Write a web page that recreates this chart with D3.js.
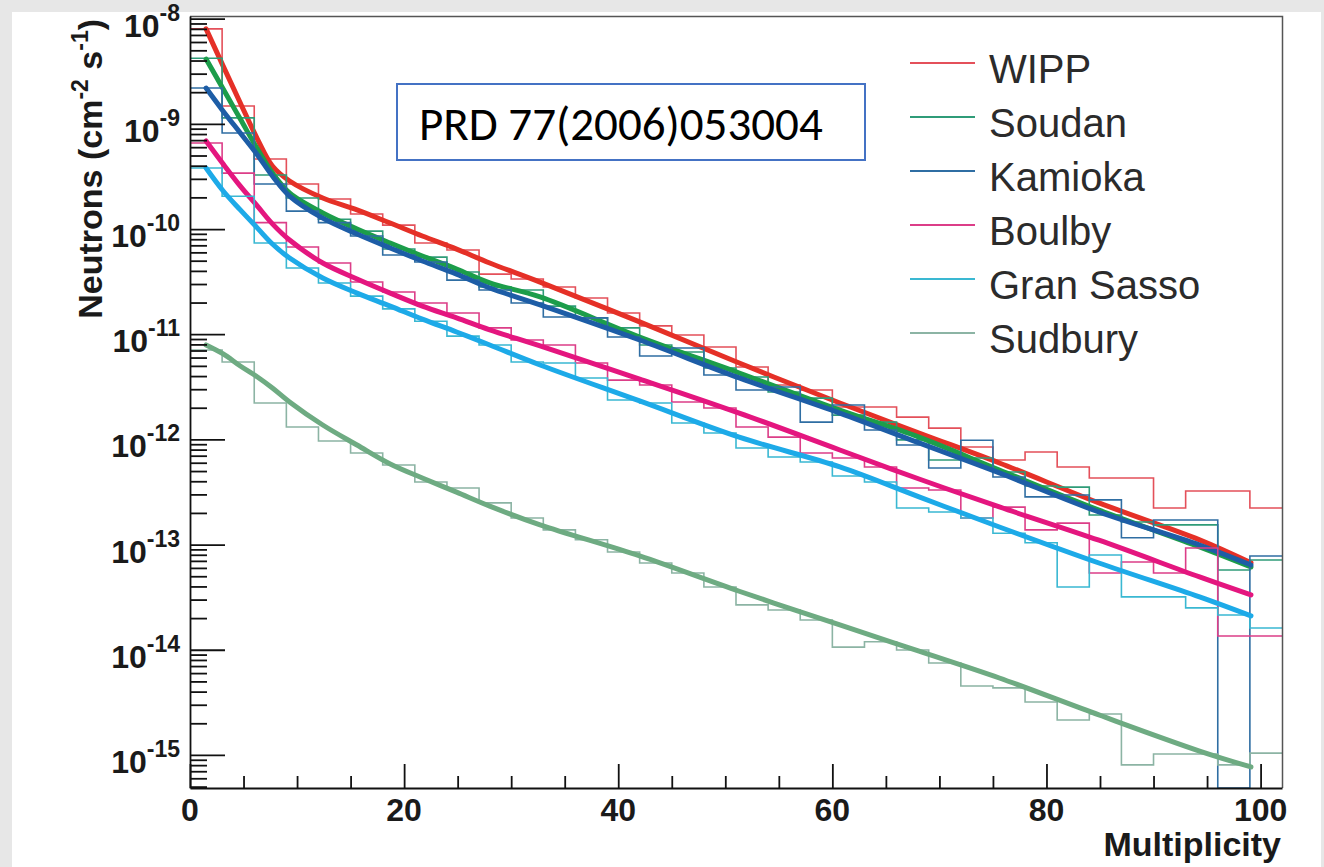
<!DOCTYPE html>
<html>
<head>
<meta charset="utf-8">
<script src="https://cdn.jsdelivr.net/npm/d3@7"></script>
<style>
  html, body { margin: 0; padding: 0; background: #e7e7e7; }
  #chart { position: absolute; left: 0; top: 0; }
</style>
</head>
<body>
<div id="chart"></div>
<script>
const sites = ["WIPP", "Soudan", "Kamioka", "Boulby", "Gran Sasso", "Sudbury"];
const histColors = ["#e4505a", "#2f9c78", "#2f6ea3", "#dc3e88", "#3ab8d2", "#8cb4a4"];
const fitColors = ["#e53027", "#1c9d4a", "#1d5da6", "#e4167f", "#1daae8", "#6eab82"];

// histogram bins (multiplicity, lower edge), width 3
const binLow = [0, 3, 6, 9, 12, 15, 18, 21, 24, 27, 30, 33, 36, 39, 42, 45, 48, 51,
    54, 57, 60, 63, 66, 69, 72, 75, 78, 81, 84, 87, 90, 93, 96, 99];
const binWidth = 3;

const wippCounts = [8.0e-9, 1.48e-9, 4.63e-10, 2.68e-10, 1.93e-10, 1.39e-10, 1.09e-10, 7.36e-11, 6.32e-11,
    3.73e-11, 3.35e-11, 2.81e-11, 2.21e-11, 1.59e-11, 1.2e-11, 9.83e-12, 7.55e-12, 4.88e-12, 3.29e-12,
    2.95e-12, 2.03e-12, 2.03e-12, 1.63e-12, 1.28e-12, 8.47e-13, 6.37e-13, 7.59e-13, 5.47e-13, 4.3e-13,
    4.3e-13, 2.23e-13, 3.23e-13, 3.23e-13, 2.23e-13];
const soudanCounts = [4.2e-9, 1.14e-9, 3.26e-10, 1.97e-10, 1.24e-10, 9.56e-11, 6.46e-11, 5.41e-11, 3.9e-11,
    2.81e-11, 2.63e-11, 1.85e-11, 1.43e-11, 1.15e-11, 7.9e-12, 6.78e-12, 4.77e-12, 3.92e-12, 2.82e-12,
    2.47e-12, 1.70e-12, 1.46e-12, 9.9e-13, 6.37e-13, 6.66e-13, 4.9e-13, 3.6e-13, 3.52e-13, 1.91e-13,
    1.64e-13, 1.54e-13, 1.54e-13, 5.73e-14, 7.14e-14];
const kamiokaCounts = [2.19e-9, 8.18e-10, 2.68e-10, 1.48e-10, 1.15e-10, 8.58e-11, 5.66e-11, 4.86e-11, 3.27e-11,
    2.63e-11, 1.98e-11, 1.46e-11, 1.43e-11, 9.4e-12, 6.2e-12, 7.4e-12, 4.09e-12, 2.95e-12, 3.15e-12,
    1.46e-12, 2.12e-12, 1.23e-12, 8.84e-13, 5.34e-13, 9.83e-13, 4.39e-13, 2.84e-13, 2.96e-13, 2.66e-13,
    1.16e-13, 1.71e-13, 1.71e-13, 0, 7.8e-14];
const boulbyCounts = [6.57e-10, 3.4e-10, 1.15e-10, 6.75e-11, 4.75e-11, 3.14e-11, 2.52e-11, 1.98e-11, 1.59e-11,
    1.15e-11, 8.8e-12, 7.9e-12, 5.32e-12, 3.66e-12, 3.29e-12, 2.27e-12, 1.99e-12, 1.31e-12, 1.05e-12,
    7.43e-13, 6.66e-13, 5.47e-13, 3.45e-13, 3.3e-13, 1.79e-13, 2.27e-13, 1.38e-13, 1.6e-13, 5.37e-14,
    6.84e-14, 5.37e-14, 9.28e-14, 1.35e-14, 1.35e-14];
const granSassoCounts = [3.8e-10, 2.05e-10, 7.36e-11, 4.26e-11, 3.07e-11, 2.3e-11, 1.74e-11, 1.33e-11, 9.6e-12,
    7.9e-12, 5.44e-12, 5.32e-12, 3.84e-12, 2.37e-12, 2.22e-12, 1.43e-12, 1.15e-12, 8.28e-13, 6.8e-13,
    6.1e-13, 4.49e-13, 3.94e-13, 2.23e-13, 2.04e-13, 1.79e-13, 1.28e-13, 1.04e-13, 3.95e-14, 7.96e-14,
    3.18e-14, 3.18e-14, 2.5e-14, 2.14e-14, 1.61e-14];
const sudburyCounts = [7.07e-12, 5.44e-12, 2.22e-12, 1.31e-12, 9.65e-13, 7.43e-13, 5.71e-13, 3.94e-13, 3.45e-13,
    2.49e-13, 1.79e-13, 1.38e-13, 1.11e-13, 8.5e-14, 6.69e-14, 5.37e-14, 3.95e-14, 2.67e-14, 2.39e-14,
    1.92e-14, 1.06e-14, 1.19e-14, 9.95e-15, 7.49e-15, 4.53e-15, 4.34e-15, 3.19e-15, 2.15e-15, 2.45e-15,
    8.04e-16, 1.02e-15, 1.02e-15, 8.04e-16, 1.04e-15];

// fit curves, read at these multiplicities
const fitX = [1.5, 3.1, 4.7, 6.3, 7.7, 9.3, 12.4, 15.6, 18.7, 21.7, 24.9, 28.0, 32.7, 42.0, 51.3, 60.7,
    68.1, 75.6, 84.9, 94.3, 99.1];
const wippFit = [8.0e-9, 3.54e-9, 1.58e-9, 7.17e-10, 3.97e-10, 2.86e-10, 1.97e-10, 1.52e-10, 1.14e-10, 8.58e-11,
    6.45e-11, 4.75e-11, 3.13e-11, 1.31e-11, 5.32e-12, 2.22e-12, 1.15e-12, 5.97e-13, 2.49e-13, 1.11e-13, 6.7e-14];
const soudanFit = [4.13e-9, 2.14e-9, 1.11e-9, 5.76e-10, 3.41e-10, 2.20e-10, 1.42e-10, 1.0e-10, 7.36e-11, 5.54e-11,
    4.17e-11, 3.07e-11, 2.26e-11, 9.4e-12, 4.28e-12, 1.90e-12, 1.05e-12, 5.12e-13, 2.13e-13, 9.5e-14, 6.12e-14];
const kamiokaFit = [2.19e-9, 1.32e-9, 8.18e-10, 5.06e-10, 3.19e-10, 2.06e-10, 1.27e-10, 8.96e-11, 6.6e-11, 4.97e-11,
    3.73e-11, 2.75e-11, 1.90e-11, 8.81e-12, 3.84e-12, 1.78e-12, 9.25e-13, 4.8e-13, 2.04e-13, 9.9e-14, 6.4e-14];
const boulbyFit = [6.87e-10, 4.15e-10, 2.56e-10, 1.65e-10, 1.12e-10, 7.86e-11, 4.75e-11, 3.35e-11, 2.46e-11, 1.85e-11,
    1.43e-11, 1.10e-11, 7.73e-12, 3.75e-12, 1.78e-12, 7.93e-13, 4.2e-13, 2.28e-13, 1.1e-13, 4.92e-14, 3.32e-14];
const granSassoFit = [3.8e-10, 2.3e-10, 1.52e-10, 1.02e-10, 7.2e-11, 5.3e-11, 3.42e-11, 2.46e-11, 1.85e-11, 1.39e-11,
    1.05e-11, 7.9e-12, 5.1e-12, 2.32e-12, 1.05e-12, 5.47e-13, 2.84e-13, 1.47e-13, 6.68e-14, 3.18e-14, 2.1e-14];
const sudburyFit = [7.9e-12, 6.49e-12, 4.99e-12, 3.92e-12, 3.08e-12, 2.27e-12, 1.37e-12, 8.84e-13, 5.84e-13, 4.3e-13,
    3.15e-13, 2.32e-13, 1.54e-13, 7.8e-14, 3.6e-14, 1.72e-14, 9.7e-15, 5.39e-15, 2.4e-15, 1.09e-15, 7.69e-16];

const xTicks = [0, 20, 40, 60, 80, 100];
const yTicks = [1e-8, 1e-9, 1e-10, 1e-11, 1e-12, 1e-13, 1e-14, 1e-15];

const counts = [wippCounts, soudanCounts, kamiokaCounts, boulbyCounts, granSassoCounts, sudburyCounts];
const fits = [wippFit, soudanFit, kamiokaFit, boulbyFit, granSassoFit, sudburyFit];

const width = 1324, height = 867;
const frame = { left: 190, right: 1282, top: 16, bottom: 788 };
const axisFont = 'Liberation Sans, Arial, sans-serif';

const svg = d3.select('#chart')
    .append('svg')
    .attr('width', width)
    .attr('height', height);

svg.append('rect').attr('width', width).attr('height', height).attr('fill', '#e7e7e7');
svg.append('rect')
    .attr('x', 12).attr('y', 12)
    .attr('width', 1309).attr('height', height - 12)
    .attr('fill', '#ffffff');

/* scales */
const x = d3.scaleLinear()
    .domain([0, 102])
    .range([frame.left, frame.right]);

const y = d3.scaleLog()
    .domain([4.85e-16, 1.06e-8])
    .range([frame.bottom, frame.top])
    .clamp(true);

svg.append('clipPath').attr('id', 'plot-clip')
    .append('rect')
    .attr('x', frame.left).attr('y', frame.top)
    .attr('width', frame.right - frame.left).attr('height', frame.bottom - frame.top);

const plot = svg.append('g').attr('clip-path', 'url(#plot-clip)');

// empty bins drop to the bottom of the frame, like ROOT on a log axis
const yPos = v => v > 0 ? y(v) : frame.bottom;

const histLine = d3.line()
    .x(d => x(d[0]))
    .y(d => yPos(d[1]))
    .curve(d3.curveStepAfter);

const fitLine = d3.line()
    .x(d => x(d[0]))
    .y(d => y(d[1]))
    .curve(d3.curveCatmullRom.alpha(0.5));

sites.forEach((site, s) => {
    const pts = binLow.map((b, i) => [b, counts[s][i]]);
    pts.push([binLow[binLow.length - 1] + binWidth, counts[s][counts[s].length - 1]]);

    plot.append('path')
        .datum(pts)
        .attr('d', histLine)
        .attr('fill', 'none')
        .attr('stroke', histColors[s])
        .attr('stroke-width', 1.6);

    plot.append('path')
        .datum(fitX.map((m, i) => [m, fits[s][i]]))
        .attr('d', fitLine)
        .attr('fill', 'none')
        .attr('stroke', fitColors[s])
        .attr('stroke-width', 5)
        .attr('stroke-linecap', 'round');
});

/* frame top and right */
svg.append('path')
    .attr('d', `M${frame.left},${frame.top + 0.5}H${frame.right + 0.5}V${frame.bottom}`)
    .attr('fill', 'none')
    .attr('stroke', '#555')
    .attr('stroke-width', 1.5);

/* Y-axis */
const yMinor = y.ticks().filter(d => !yTicks.some(t => Math.abs(d / t - 1) < 1e-6));

const yAxis = svg.append('g').attr('transform', `translate(${frame.left},0)`);
yAxis.call(d3.axisLeft(y).tickValues(yTicks).tickSizeInner(-35).tickSizeOuter(0).tickFormat(''));
yAxis.append('g').call(d3.axisLeft(y).tickValues(yMinor).tickSizeInner(-17).tickSizeOuter(0).tickFormat(''))
    .select('.domain').remove();
yAxis.selectAll('path, line').attr('stroke', '#111').attr('stroke-width', 1.8);

const yLabels = svg.append('g')
    .attr('font-family', axisFont)
    .attr('font-weight', 'bold')
    .attr('fill', '#1a1a1a')
    .selectAll('text')
    .data(yTicks)
    .join('text')
    .attr('x', 180)
    .attr('y', d => y(d) + 18)
    .attr('text-anchor', 'end')
    .attr('font-size', 32);
yLabels.append('tspan').text('10');
yLabels.append('tspan')
    .attr('dy', -16)
    .attr('font-size', 23)
    .text(d => String(Math.round(Math.log10(d))));

/* X-axis */
const xMinor = x.ticks(20).filter(d => d % 20 !== 0);
const xAxis = svg.append('g').attr('transform', `translate(0,${frame.bottom})`);
xAxis.call(d3.axisBottom(x).tickValues(xTicks).tickSizeInner(-24).tickSizeOuter(0).tickFormat(''));
xAxis.append('g').call(d3.axisBottom(x).tickValues(xMinor).tickSizeInner(-12).tickSizeOuter(0).tickFormat(''))
    .select('.domain').remove();
xAxis.selectAll('path, line').attr('stroke', '#111').attr('stroke-width', 1.8);

svg.append('g')
    .attr('font-family', axisFont)
    .attr('font-weight', 'bold')
    .attr('font-size', 32)
    .attr('fill', '#1a1a1a')
    .selectAll('text')
    .data(xTicks)
    .join('text')
    .attr('x', d => x(d))
    .attr('y', 821)
    .attr('text-anchor', 'middle')
    .text(d => d);

svg.append('text')
    .attr('x', 1281)
    .attr('y', 856)
    .attr('text-anchor', 'end')
    .attr('font-family', axisFont)
    .attr('font-weight', 'bold')
    .attr('font-size', 34)
    .attr('fill', '#1a1a1a')
    .text('Multiplicity');

const yTitle = svg.append('text')
    .attr('transform', 'translate(102,19) rotate(-90)')
    .attr('text-anchor', 'end')
    .attr('font-family', axisFont)
    .attr('font-weight', 'bold')
    .attr('font-size', 34)
    .attr('fill', '#1a1a1a');
yTitle.append('tspan').text('Neutrons (cm');
yTitle.append('tspan').attr('dy', -14).attr('font-size', 23).text('-2');
yTitle.append('tspan').attr('dy', 14).text(' s');
yTitle.append('tspan').attr('dy', -14).attr('font-size', 23).text('-1');
yTitle.append('tspan').attr('dy', 14).text(')');

/* legend */
const legend = svg.append('g')
    .selectAll('g')
    .data(sites)
    .join('g')
    .attr('transform', (d, i) => `translate(0, ${63 + i * 54})`);

legend.append('line')
    .attr('x1', 910).attr('x2', 975)
    .attr('stroke', (d, i) => histColors[i])
    .attr('stroke-width', 2);

legend.append('text')
    .attr('x', 989)
    .attr('y', 20)
    .attr('font-family', axisFont)
    .attr('font-size', 40)
    .attr('fill', '#2b2b2b')
    .text(d => d);

/* reference box */
svg.append('rect')
    .attr('x', 397).attr('y', 84)
    .attr('width', 468).attr('height', 76)
    .attr('fill', '#fff')
    .attr('stroke', '#4472c4')
    .attr('stroke-width', 2);

svg.append('text')
    .attr('x', 419)
    .attr('y', 140)
    .attr('font-family', 'Carlito, Lato, sans-serif')
    .attr('font-size', 47)
    .attr('fill', '#000')
    .text('PRD 77(2006)053004');
</script>
</body>
</html>
